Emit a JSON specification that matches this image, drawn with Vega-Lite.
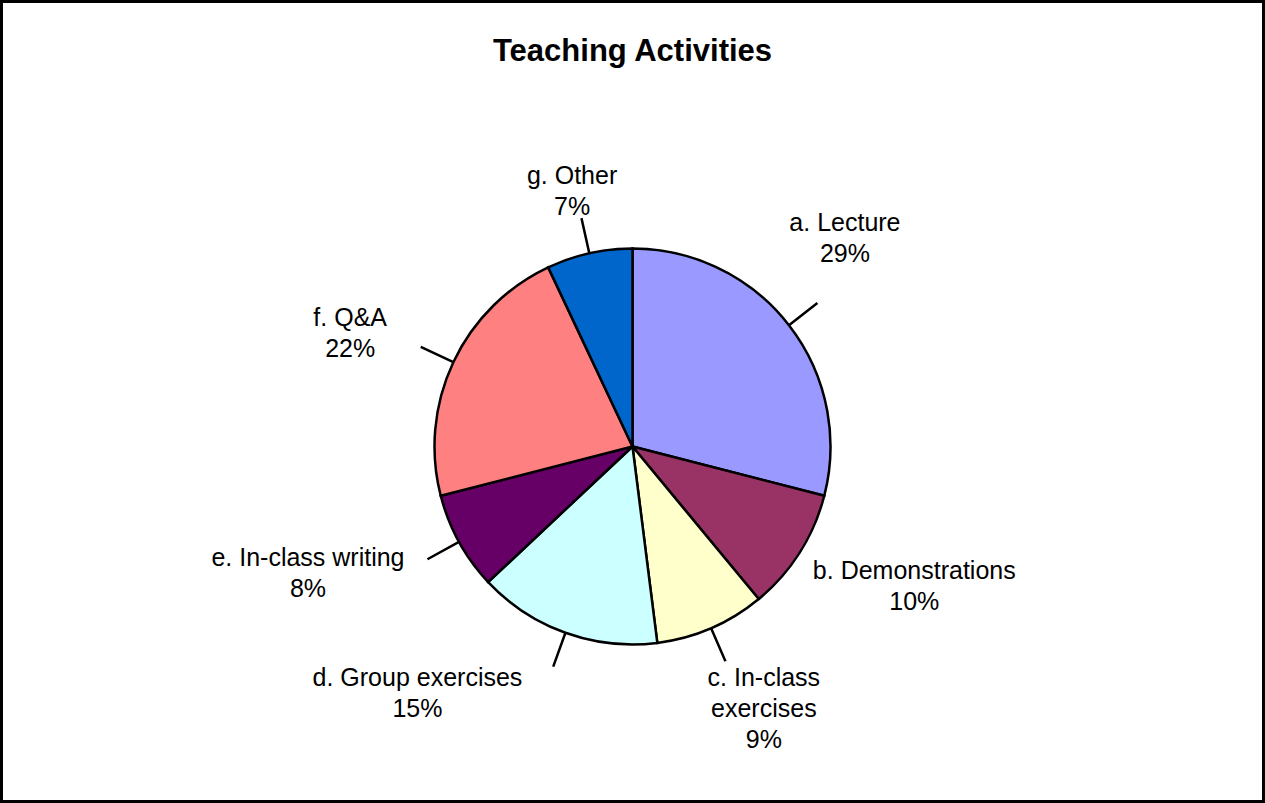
{
  "$schema": "https://vega.github.io/schema/vega-lite/v6.json",
  "width": 1265,
  "height": 803,
  "autosize": {"type": "fit", "contains": "padding"},
  "padding": {"left": 1.5, "top": 1.5, "right": 1.5, "bottom": 1.5},
  "background": "white",
  "view": {"stroke": "black", "strokeWidth": 3, "fill": "white"},
  "config": {
    "view": {"stroke": "black", "strokeWidth": 3, "fill": "white"},
    "font": "Liberation Sans",
    "text": {"fontSize": 25, "lineHeight": 31, "lineBreak": "\n", "color": "black", "align": "center", "baseline": "middle"}
  },
  "title": {
    "text": "Teaching Activities",
    "font": "Liberation Sans",
    "fontSize": 31,
    "fontWeight": "bold",
    "color": "black",
    "anchor": "middle",
    "frame": "group",
    "offset": -66
  },
  "data": {
    "values": [
      {"category": "a. Lecture", "value": 29, "label": "a. Lecture\n29%"},
      {"category": "b. Demonstrations", "value": 10, "label": "b. Demonstrations\n10%"},
      {"category": "c. In-class exercises", "value": 9, "label": "c. In-class\nexercises\n9%"},
      {"category": "d. Group exercises", "value": 15, "label": "d. Group exercises\n15%"},
      {"category": "e. In-class writing", "value": 8, "label": "e. In-class writing\n8%"},
      {"category": "f. Q&A", "value": 22, "label": "f. Q&A\n22%"},
      {"category": "g. Other", "value": 7, "label": "g. Other\n7%"}
    ]
  },
  "encoding": {
    "theta": {"field": "value", "type": "quantitative", "stack": true},
    "order": {"field": "category", "type": "nominal", "sort": "ascending"}
  },
  "layer": [
    {
      "mark": {"type": "arc", "radius": 198, "stroke": "black", "strokeWidth": 2.5, "yOffset": 45},
      "encoding": {
        "color": {
          "field": "category",
          "type": "nominal",
          "scale": {
            "domain": ["a. Lecture", "b. Demonstrations", "c. In-class exercises", "d. Group exercises", "e. In-class writing", "f. Q&A", "g. Other"],
            "range": ["#9999FF", "#993366", "#FFFFCC", "#CCFFFF", "#660066", "#FF8080", "#0066CC"]
          },
          "legend": null
        }
      }
    },
    {
      "mark": {"type": "arc", "radius": 234, "radius2": 198, "padAngle": 1.4, "fill": "transparent", "stroke": "black", "strokeWidth": 2.5, "yOffset": 45},
      "encoding": {
        "strokeOpacity": {
          "condition": {"test": "datum.category === 'b. Demonstrations'", "value": 0},
          "value": 1
        }
      }
    },
    {
      "mark": {"type": "text", "radius": 308, "thetaOffset": -0.15, "yOffset": 45},
      "encoding": {
        "text": {
          "condition": {"test": "datum.category === 'a. Lecture' || datum.category === 'b. Demonstrations'", "field": "label", "type": "nominal"},
          "value": ""
        }
      }
    },
    {
      "mark": {"type": "text", "radius": 266, "thetaOffset": -0.108, "yOffset": 45},
      "encoding": {
        "text": {
          "condition": {"test": "datum.category === 'c. In-class exercises'", "field": "label", "type": "nominal"},
          "value": ""
        }
      }
    },
    {
      "mark": {"type": "text", "radius": 316, "thetaOffset": 0.403, "yOffset": 45},
      "encoding": {
        "text": {
          "condition": {"test": "datum.category === 'd. Group exercises'", "field": "label", "type": "nominal"},
          "value": ""
        }
      }
    },
    {
      "mark": {"type": "text", "radius": 343, "thetaOffset": 0.173, "yOffset": 45},
      "encoding": {
        "text": {
          "condition": {"test": "datum.category === 'e. In-class writing'", "field": "label", "type": "nominal"},
          "value": ""
        }
      }
    },
    {
      "mark": {"type": "text", "radius": 310, "thetaOffset": -0.014, "yOffset": 45},
      "encoding": {
        "text": {
          "condition": {"test": "datum.category === 'f. Q&A'", "field": "label", "type": "nominal"},
          "value": ""
        }
      }
    },
    {
      "mark": {"type": "text", "radius": 277, "thetaOffset": 0, "yOffset": 45},
      "encoding": {
        "text": {
          "condition": {"test": "datum.category === 'g. Other'", "field": "label", "type": "nominal"},
          "value": ""
        }
      }
    }
  ]
}
